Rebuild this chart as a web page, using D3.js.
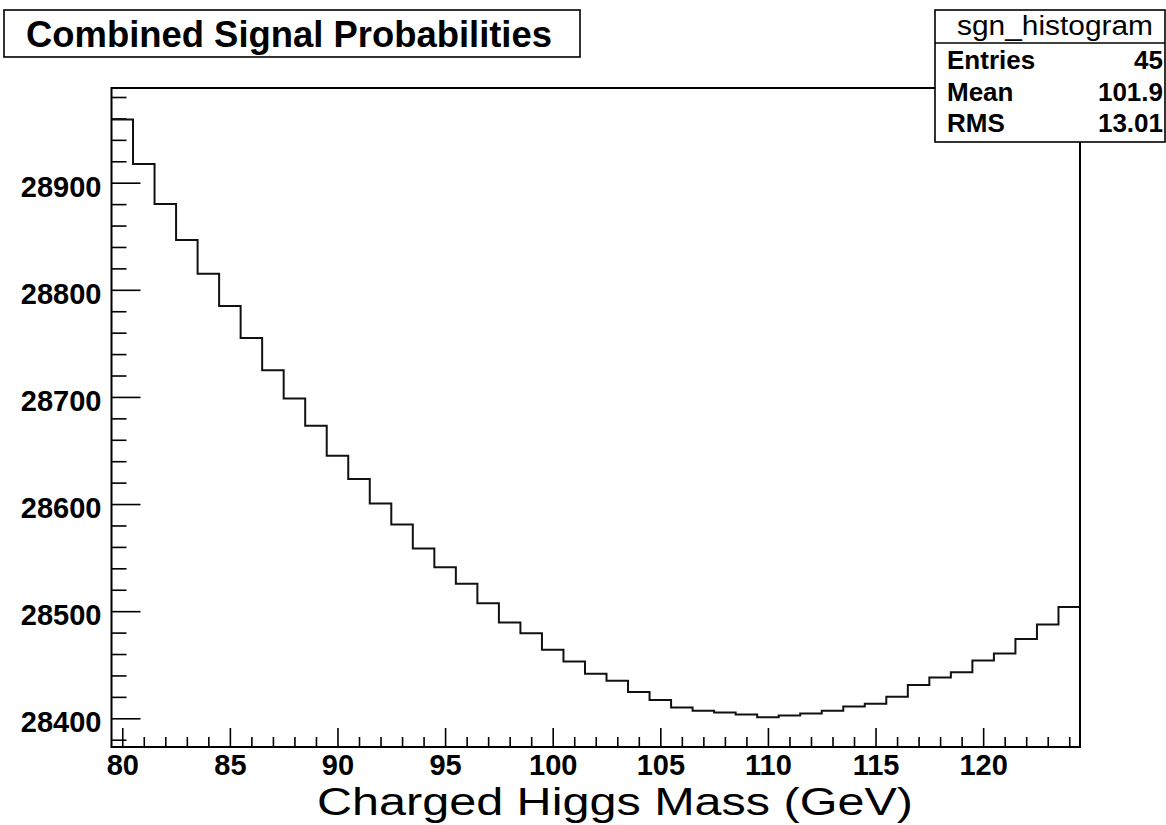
<!DOCTYPE html>
<html>
<head>
<meta charset="utf-8">
<script src="https://cdn.jsdelivr.net/npm/d3@7"></script>
<style>
  body { margin: 0; background: #fff; }
  svg { display: block; font-family: "Liberation Sans", Helvetica, Arial, sans-serif; }
</style>
</head>
<body>
<div id="chart"></div>
<script>
// bin centres (GeV), 1 GeV wide bins
const massBins = [80, 81, 82, 83, 84, 85, 86, 87, 88, 89, 90, 91, 92, 93, 94, 95, 96, 97, 98, 99,
    100, 101, 102, 103, 104, 105, 106, 107, 108, 109, 110, 111, 112, 113, 114, 115, 116, 117, 118, 119,
    120, 121, 122, 123, 124];
// combined signal probability per bin
const binValues = [28959, 28917.5, 28880, 28846.5, 28815, 28785, 28755, 28725, 28698.5, 28673,
    28645, 28623.5, 28600.5, 28581, 28558.5, 28541, 28525.5, 28507.5, 28489.5, 28479.5,
    28464, 28453, 28441.5, 28435, 28424.5, 28417, 28410, 28407, 28405.5, 28403.5,
    28401, 28402.5, 28404.5, 28407, 28411, 28413.5, 28420, 28431, 28438, 28443,
    28454, 28460.5, 28474, 28487.5, 28504];
const xMajorTicks = [80, 85, 90, 95, 100, 105, 110, 115, 120];
const yMajorTicks = [28400, 28500, 28600, 28700, 28800, 28900];
const statsLabels = ["Entries", "Mean", "RMS"];
const statsValues = ["45", "101.9", "13.01"];

const width = 1166, height = 825;
const frame = {left: 111.5, right: 1080, top: 88, bottom: 747};

const svg = d3.select("#chart").append("svg")
    .attr("width", width)
    .attr("height", height);

svg.append("rect").attr("width", width).attr("height", height).attr("fill", "#fff");

const x = d3.scaleLinear()
    .domain([massBins[0] - 0.5, massBins[massBins.length - 1] + 0.5])
    .range([frame.left, frame.right]);
const y = d3.scaleLinear()
    .domain([28373.2, 28988.4])
    .range([frame.bottom, frame.top]);

// minor ticks
const xMinor = d3.range(80, 125, 1).filter(d => !xMajorTicks.includes(d));
const yMinor = d3.range(28380, 28990, 20).filter(d => !yMajorTicks.includes(d));

const xMinorAxis = svg.append("g")
    .attr("transform", `translate(0,${frame.bottom})`)
    .call(d3.axisBottom(x).tickValues(xMinor).tickSize(-10).tickFormat(""));
const xAxis = svg.append("g")
    .attr("transform", `translate(0,${frame.bottom})`)
    .call(d3.axisBottom(x).tickValues(xMajorTicks).tickSize(-19).tickPadding(7).tickFormat(d3.format("d")));

const yMinorAxis = svg.append("g")
    .attr("transform", `translate(${frame.left},0)`)
    .call(d3.axisLeft(y).tickValues(yMinor).tickSize(-15).tickFormat(""));
const yAxis = svg.append("g")
    .attr("transform", `translate(${frame.left},0)`)
    .call(d3.axisLeft(y).tickValues(yMajorTicks).tickSize(-29).tickPadding(10).tickFormat(d3.format("d")));

[xMinorAxis, xAxis, yMinorAxis, yAxis].forEach(g => {
    g.select(".domain").remove();
    g.selectAll("line").attr("stroke", "#000").attr("stroke-width", 1.6);
});
[xAxis, yAxis].forEach(g => {
    g.selectAll("text")
        .attr("fill", "#000")
        .attr("font-size", 29)
        .attr("font-weight", "bold")
        .style("font-family", "'Liberation Sans', Helvetica, Arial, sans-serif");
});
yAxis.selectAll("text").attr("dy", "0.46em");

// histogram outline
const stepPoints = massBins.map((m, i) => [m - 0.5, binValues[i]]);
stepPoints.push([massBins[massBins.length - 1] + 0.5, binValues[binValues.length - 1]]);
const step = d3.line()
    .x(d => x(d[0]))
    .y(d => y(d[1]))
    .curve(d3.curveStepAfter);
svg.append("path")
    .attr("d", step(stepPoints))
    .attr("fill", "none")
    .attr("stroke", "#111")
    .attr("stroke-width", 2);

// frame
svg.append("rect")
    .attr("x", frame.left)
    .attr("y", frame.top)
    .attr("width", frame.right - frame.left)
    .attr("height", frame.bottom - frame.top)
    .attr("fill", "none")
    .attr("stroke", "#000")
    .attr("stroke-width", 2);

// x axis title
svg.append("text")
    .attr("x", 317)
    .attr("y", 815)
    .attr("font-size", 38)
    .attr("textLength", 596)
    .attr("lengthAdjust", "spacingAndGlyphs")
    .attr("fill", "#000")
    .text("Charged Higgs Mass (GeV)");

// title box
svg.append("rect")
    .attr("x", 4)
    .attr("y", 10)
    .attr("width", 576)
    .attr("height", 47)
    .attr("fill", "#fff")
    .attr("stroke", "#000")
    .attr("stroke-width", 1.6);
svg.append("text")
    .attr("x", 26)
    .attr("y", 46.5)
    .attr("font-size", 36)
    .attr("font-weight", "bold")
    .attr("textLength", 526)
    .attr("lengthAdjust", "spacingAndGlyphs")
    .attr("fill", "#000")
    .text("Combined Signal Probabilities");

// stats box
const stats = svg.append("g");
stats.append("rect")
    .attr("x", 935)
    .attr("y", 10)
    .attr("width", 230)
    .attr("height", 132)
    .attr("fill", "#fff")
    .attr("stroke", "#000")
    .attr("stroke-width", 1.6);
stats.append("line")
    .attr("x1", 935).attr("x2", 1165)
    .attr("y1", 43).attr("y2", 43)
    .attr("stroke", "#000")
    .attr("stroke-width", 1.6);
stats.append("text")
    .attr("x", 1055)
    .attr("y", 35)
    .attr("text-anchor", "middle")
    .attr("font-size", 27)
    .attr("textLength", 196)
    .attr("lengthAdjust", "spacingAndGlyphs")
    .attr("fill", "#000")
    .text("sgn_histogram");

const rowY = [69, 101, 132];
stats.selectAll(".slabel")
    .data(statsLabels)
    .enter().append("text")
    .attr("class", "slabel")
    .attr("x", 947)
    .attr("y", (d, i) => rowY[i])
    .attr("font-size", 26)
    .attr("font-weight", "bold")
    .attr("fill", "#000")
    .text(d => d);
stats.selectAll(".svalue")
    .data(statsValues)
    .enter().append("text")
    .attr("class", "svalue")
    .attr("x", 1163)
    .attr("y", (d, i) => rowY[i])
    .attr("text-anchor", "end")
    .attr("font-size", 26)
    .attr("font-weight", "bold")
    .attr("fill", "#000")
    .text(d => d);
</script>
</body>
</html>
